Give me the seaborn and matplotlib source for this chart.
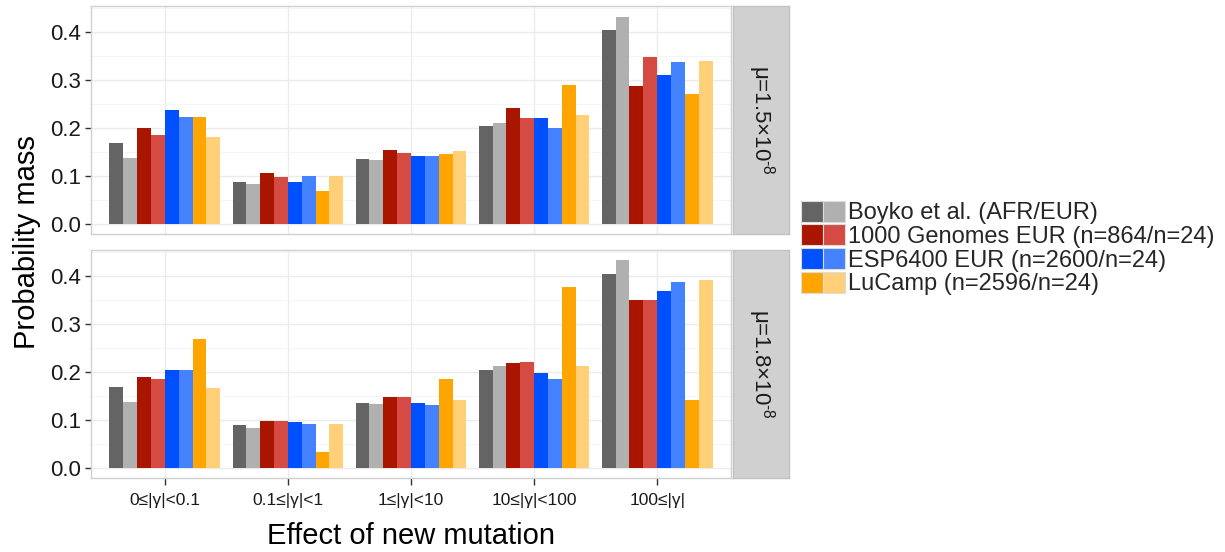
import numpy as np
import pandas as pd
import matplotlib
matplotlib.use("Agg")
import matplotlib.pyplot as plt
import seaborn as sns
from matplotlib.patches import Patch
from matplotlib.legend_handler import HandlerTuple

# ---------------- data ----------------
categories = ["0≤|γ|<0.1", "0.1≤|γ|<1", "1≤|γ|<10", "10≤|γ|<100", "100≤|γ|"]
series = ["Boyko AFR", "Boyko EUR",
          "1000G n=864", "1000G n=24",
          "ESP n=2600", "ESP n=24",
          "LuCamp n=2596", "LuCamp n=24"]
legend_labels = ["Boyko et al. (AFR/EUR)", "1000 Genomes EUR (n=864/n=24)",
                 "ESP6400 EUR (n=2600/n=24)", "LuCamp (n=2596/n=24)"]
panel_labels = ["μ=1.5×10$^{\u2010 8}$", "μ=1.8×10$^{\u2010 8}$"]

# mu = 1.5e-8 panel
mu15_boyko_afr = [0.168, 0.087, 0.135, 0.203, 0.403]
mu15_boyko_eur = [0.137, 0.083, 0.132, 0.210, 0.431]
mu15_kg_864 = [0.199, 0.106, 0.153, 0.240, 0.287]
mu15_kg_24 = [0.185, 0.097, 0.147, 0.221, 0.348]
mu15_esp_2600 = [0.237, 0.087, 0.142, 0.221, 0.310]
mu15_esp_24 = [0.223, 0.099, 0.142, 0.199, 0.337]
mu15_lucamp_2596 = [0.223, 0.068, 0.146, 0.289, 0.270]
mu15_lucamp_24 = [0.180, 0.099, 0.151, 0.227, 0.339]

# mu = 1.8e-8 panel
mu18_boyko_afr = [0.169, 0.088, 0.135, 0.204, 0.404]
mu18_boyko_eur = [0.137, 0.083, 0.133, 0.211, 0.432]
mu18_kg_864 = [0.188, 0.097, 0.147, 0.219, 0.349]
mu18_kg_24 = [0.185, 0.097, 0.147, 0.221, 0.349]
mu18_esp_2600 = [0.204, 0.095, 0.135, 0.197, 0.368]
mu18_esp_24 = [0.204, 0.090, 0.131, 0.185, 0.387]
mu18_lucamp_2596 = [0.269, 0.033, 0.185, 0.376, 0.140]
mu18_lucamp_24 = [0.166, 0.090, 0.140, 0.211, 0.392]

colors = ["#646464", "#b0b0b0", "#aa1500", "#d54a43",
          "#0050ff", "#4482ff", "#ffa500", "#ffd077"]

panels = [
    [mu15_boyko_afr, mu15_boyko_eur, mu15_kg_864, mu15_kg_24,
     mu15_esp_2600, mu15_esp_24, mu15_lucamp_2596, mu15_lucamp_24],
    [mu18_boyko_afr, mu18_boyko_eur, mu18_kg_864, mu18_kg_24,
     mu18_esp_2600, mu18_esp_24, mu18_lucamp_2596, mu18_lucamp_24],
]

# ---------------- style ----------------
sns.set_style("white")
plt.rcParams["font.family"] = ["Liberation Sans", "DejaVu Sans"]
plt.rcParams["mathtext.fontset"] = "custom"
plt.rcParams["mathtext.rm"] = "Liberation Sans"
plt.rcParams["mathtext.default"] = "regular"

W, H = 1225, 552
fig = plt.figure(figsize=(W / 100, H / 100), dpi=100)
fig.patch.set_facecolor("white")

panel_boxes = [(91, 6, 731, 234), (91, 250, 731, 478)]
strip_x = (733, 789)

for i, (vals, box, plabel) in enumerate(zip(panels, panel_boxes, panel_labels)):
    x0, y0, x1, y1 = box
    ax = fig.add_axes([x0 / W, 1 - y1 / H, (x1 - x0) / W, (y1 - y0) / H])
    rows = []
    for s, v in zip(series, vals):
        for c, val in zip(categories, v):
            rows.append({"category": c, "series": s, "value": val})
    df = pd.DataFrame(rows)
    sns.barplot(data=df, x="category", y="value", hue="series",
                order=categories, hue_order=series, palette=colors,
                saturation=1, width=0.9, errorbar=None, legend=False,
                linewidth=0, ax=ax)
    ax.set_xlim(-0.6, 4.6)
    ax.set_ylim(-0.0216, 0.4536)
    ax.set_yticks([0.0, 0.1, 0.2, 0.3, 0.4])
    ax.set_yticklabels(["0.0", "0.1", "0.2", "0.3", "0.4"])
    ax.set_yticks([0.05, 0.15, 0.25, 0.35, 0.45], minor=True)
    ax.set_axisbelow(True)
    ax.grid(True, which="major", axis="both", color="#ebebeb", linewidth=1.0)
    ax.grid(True, which="minor", axis="y", color="#f4f4f4", linewidth=0.6)
    ax.set_xlabel("")
    ax.set_ylabel("")
    for sp in ax.spines.values():
        sp.set_color("#d0d0d0")
        sp.set_linewidth(1.0)
    ax.tick_params(axis="y", which="major", length=4, width=1, color="#333333",
                   labelsize=16, labelcolor="#1a1a1a", pad=3, left=True)
    ax.tick_params(axis="y", which="minor", length=0)
    if i == 0:
        ax.tick_params(axis="x", length=0, labelbottom=False)
    else:
        ax.tick_params(axis="x", length=5, width=1, color="#333333",
                       labelsize=12.5, labelcolor="#1a1a1a", pad=6, bottom=True)

    sax = fig.add_axes([strip_x[0] / W, 1 - y1 / H, (strip_x[1] - strip_x[0]) / W, (y1 - y0) / H])
    sax.set_facecolor("#d0d0d0")
    sax.set_xticks([])
    sax.set_yticks([])
    for sp in sax.spines.values():
        sp.set_color("#c2c2c2")
        sp.set_linewidth(1.0)
    sax.text(0.5, 0.5, plabel, rotation=270, ha="center", va="center",
             fontsize=16, color="#1a1a1a", transform=sax.transAxes)

fig.text(27 / W, 1 - 242 / H, "Probability mass", rotation=90,
         ha="center", va="center", fontsize=21, color="black")
fig.text(411 / W, 1 - 536 / H, "Effect of new mutation",
         ha="center", va="center", fontsize=21, color="black")

handles = []
for k in range(4):
    handles.append((Patch(facecolor=colors[2 * k], edgecolor="#dcdcdc", linewidth=0.8),
                    Patch(facecolor=colors[2 * k + 1], edgecolor="#dcdcdc", linewidth=0.8)))
fig.legend(handles=handles, labels=legend_labels,
           handler_map={tuple: HandlerTuple(ndivide=None, pad=0)},
           loc="center left", bbox_to_anchor=(801 / W, 1 - 248 / H),
           frameon=False, fontsize=17, handlelength=1.85, handleheight=1.0,
           labelspacing=0.0, handletextpad=0.15, borderpad=0, borderaxespad=0)

fig.savefig("out.png", dpi=100, facecolor="white")
